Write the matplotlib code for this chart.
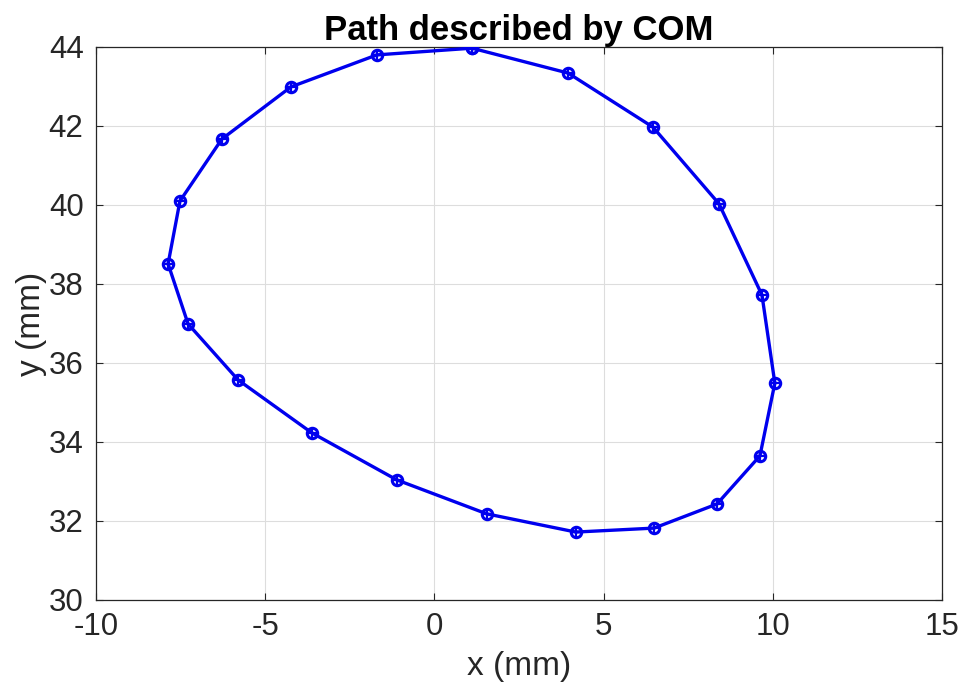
import matplotlib.pyplot as plt

# centre of mass path (closed loop)
x_mm = [1.11, 3.95, 6.46, 8.41, 9.68, 10.06, 9.62, 8.35, 6.49, 4.18,
        1.55, -1.11, -3.62, -5.80, -7.28, -7.87, -7.52, -6.28, -4.24, -1.70, 1.11]
y_mm = [43.97, 43.34, 41.97, 40.03, 37.72, 35.49, 33.65, 32.43, 31.82, 31.72,
        32.18, 33.04, 34.23, 35.57, 36.99, 38.51, 40.10, 41.67, 42.99, 43.80, 43.97]

xticks = [-10, -5, 0, 5, 10, 15]
yticks = [30, 32, 34, 36, 38, 40, 42, 44]

plt.rcParams['font.family'] = ['Liberation Sans', 'DejaVu Sans']
plt.rcParams['axes.unicode_minus'] = False

fig = plt.figure(figsize=(9.63, 6.91), dpi=100)
ax = fig.add_axes([0.0997, 0.1317, 0.8785, 0.8003])

ax.plot(x_mm, y_mm, color='#0000ee', lw=2.4, marker='o', ms=7.5,
        mfc='none', mew=2.2, zorder=3)
ax.plot(x_mm, y_mm, ls='none', color='#0000ee', marker='+', ms=7.5, mew=1.6, zorder=4)

ax.set_xlim(-10, 15)
ax.set_ylim(30, 44)
ax.set_xticks(xticks)
ax.set_yticks(yticks)
ax.grid(True, color='#dddddd', lw=0.8)
ax.set_axisbelow(True)
ax.tick_params(direction='in', top=True, right=True, labelsize=22.5,
               colors='#262626', length=5, width=0.8)
ax.tick_params(axis='x', pad=9)
ax.tick_params(axis='y', pad=9)
for s in ax.spines.values():
    s.set_color('#262626')
    s.set_linewidth(0.9)

ax.set_xlabel('x (mm)', fontsize=24, color='#262626', labelpad=6)
ax.set_ylabel('y (mm)', fontsize=24, color='#262626', labelpad=1)
ax.set_title('Path described by COM', fontsize=25, fontweight='bold', pad=5)

fig.savefig('out.png', dpi=100)
